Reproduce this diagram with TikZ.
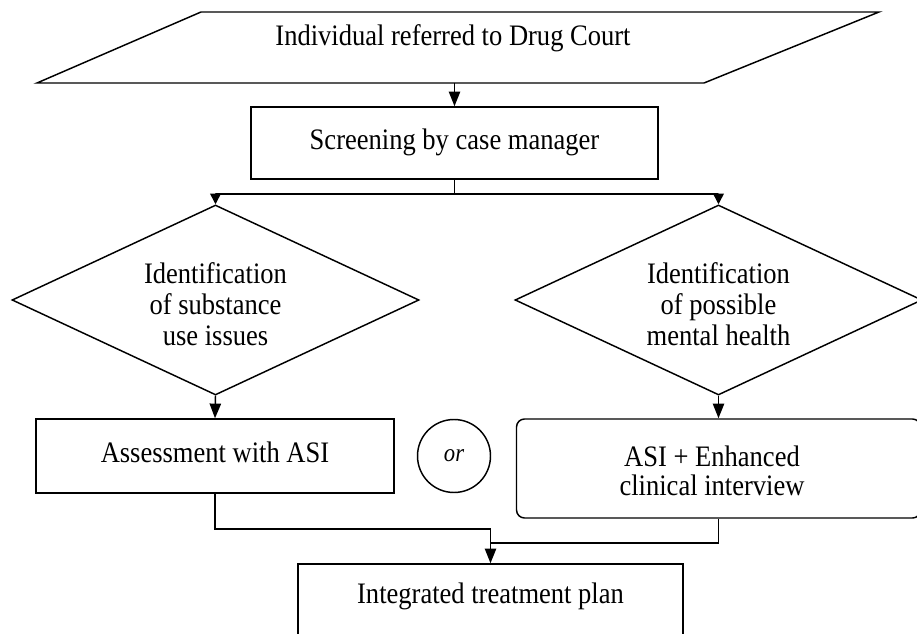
\documentclass[tikz,border=0pt]{standalone}
\usepackage{fontspec}
\usepackage{graphicx}
\setmainfont{Liberation Serif}
\usetikzlibrary{shapes.geometric,arrows.meta}
\newcommand{\vst}[1]{\scalebox{1}[1.12]{\begin{tabular}{@{}c@{}}#1\end{tabular}}}
\begin{document}
\begin{tikzpicture}[x=0.75pt,y=-0.75pt, line width=1.1pt,
  txt/.style={font=\fontsize{19.9pt}{20.76pt}\selectfont, inner sep=0pt, align=center},
  boxr/.style={draw, rectangle, inner sep=0pt, font=\fontsize{19.9pt}{20.76pt}\selectfont, align=center},
  dia/.style={draw, diamond, inner sep=0pt, minimum width=305.25pt, minimum height=142.5pt},
  arr/.style={-{Triangle[length=11pt,width=8.5pt]}},
  sarr/.style={-{Triangle[length=8pt,width=8pt]}}]
\useasboundingbox (0,0) rectangle (917,634);
\clip (0,0) rectangle (917,634);
% input parallelogram
\draw (201,12) -- (879,12) -- (704,83) -- (37,83) -- cycle;
\coordinate (pb) at (454.5,83);
\node[txt] (intake) at (453,39) {\vst{Individual referred to Drug Court}};
% screening
\node[boxr, minimum width=305.25pt, minimum height=54pt] (screen) at (454.5,143) {\vst{Screening by case manager}};
% diamonds
\node[dia] (d1) at (215.5,300) {};
\node[txt] (d1t) at (215.5,308) {\vst{Identification\\of substance\\use issues}};
\node[dia] (d2) at (718.5,300) {};
\node[txt] (d2t) at (718.5,308) {\vst{Identification\\of possible\\mental health}};
% assessment boxes
\node[boxr, minimum width=268.5pt, minimum height=55.5pt] (abox) at (215,456) {\vst{Assessment with ASI}};
\node[draw, circle, inner sep=0pt, minimum size=54.75pt, font=\fontsize{17pt}{20pt}\selectfont\itshape] (or) at (454,456) {\vst{or}};
\node[draw, rectangle, rounded corners=6pt, minimum width=303pt, minimum height=74.25pt] (rbox) at (718.5,468.5) {};
\node[txt, font=\fontsize{19.9pt}{18.75pt}\selectfont] (rboxt) at (712,475) {\vst{ASI + Enhanced\\clinical interview}};
% plan
\node[draw, rectangle, minimum width=288.75pt, minimum height=57pt] (plan) at (490.5,602) {};
\node[txt] (plant) at (490.5,597) {\vst{Integrated treatment plan}};
% connectors
\draw[arr] (pb) -- (screen.north);
\coordinate (sm) at (454.5,194);
\draw (screen.south) -- (sm);
\draw[sarr] (sm) -| (d1.north);
\draw[sarr] (sm) -| (d2.north);
\draw[arr] (d1.south) -- (abox.north);
\draw[arr] (d2.south) -- (rbox.north);
\coordinate (m1) at (490.5,529);
\coordinate (m2) at (490.5,543);
\draw (abox.south) |- (m1);
\draw (rbox.south) |- (m2);
\draw[arr] (m1) -- (plan.north);
\end{tikzpicture}
\end{document}
